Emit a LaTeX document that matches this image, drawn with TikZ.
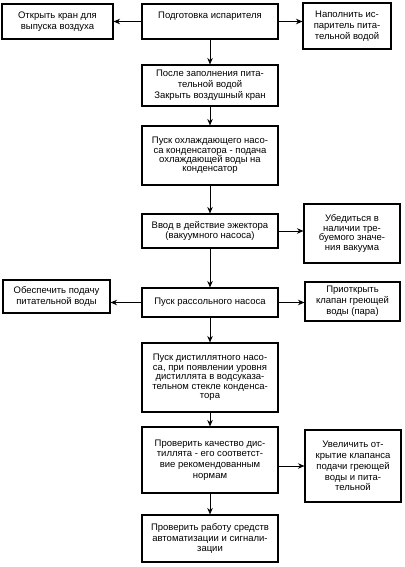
\documentclass[tikz,border=0pt]{standalone}
\usepackage{fontspec}
\setmainfont{Liberation Sans}
\usetikzlibrary{arrows.meta}
\begin{document}
\begin{tikzpicture}[x=1pt,y=-1pt,
  box/.style={draw, line width=1.1pt, inner sep=0pt, align=center,
    font=\fontsize{9.5}{10.8}\selectfont},
  tight/.style={font=\fontsize{9.5}{9.4}\selectfont},
  mainbox/.style={box, minimum width=136pt},
  arr/.style={line width=0.9pt, -{Stealth[length=6.5pt,width=5.5pt]}}]
\useasboundingbox (0,0) rectangle (404,567);
% main column
\node[mainbox, minimum height=35pt, text height=7pt, text depth=13pt] (m1) at (210,21.5) {Подготовка испарителя};
\node[mainbox, minimum height=41pt] (m2) at (210,85.5) {После заполнения пита-\\тельной водой\\Закрыть воздушный кран};
\node[mainbox, tight, minimum height=59pt] (m3) at (210,155.5) {Пуск охлаждающего насо-\\са конденсатора - подача\\охлаждающей воды на\\конденсатор};
\node[mainbox, minimum height=34pt] (m4) at (210,231) {Ввод в действие эжектора\\(вакуумного насоса)};
\node[mainbox, minimum height=29pt] (m5) at (210,302.5) {Пуск рассольного насоса};
\node[mainbox, tight, minimum height=69pt] (m6) at (210,377.5) {Пуск дистиллятного насо-\\са, при появлении уровня\\дистиллята в водсуказа-\\тельном стекле конденса-\\тора};
\node[mainbox, minimum height=66pt] (m7) at (210,460) {Проверить качество дис-\\тиллята - его соответст-\\вие рекомендованным\\нормам};
\node[mainbox, minimum height=47pt] (m8) at (210,538.5) {Проверить работу средств\\автоматизации и сигнали-\\зации};
% side boxes
\node[box, minimum width=111pt, minimum height=35pt] (l1) at (57.5,21.5) {Открыть кран для\\выпуска воздуха};
\node[box, minimum width=88pt, minimum height=46pt] (r1) at (347,26) {Наполнить ис-\\паритель пита-\\тельной водой};
\node[box, tight, minimum width=96pt, minimum height=59pt] (r4) at (352,233.5) {Убедиться в\\наличии тре-\\буемого значе-\\ния вакуума};
\node[box, minimum width=107pt, minimum height=33pt] (l5) at (56.5,296.5) {Обеспечить подачу\\питательной воды};
\node[box, minimum width=95pt, minimum height=39pt] (r5) at (352.5,301.5) {Приоткрыть\\клапан греющей\\воды (пара)};
\node[box, minimum width=96pt, minimum height=72pt] (r7) at (353,466) {Увеличить от-\\крытие клапанса\\подачи греющей\\воды и пита-\\тельной};
% vertical flow
\draw[arr] (m1) -- (m2);
\draw[arr] (m2) -- (m3);
\draw[arr] (m3) -- (m4);
\draw[arr] (m4) -- (m5);
\draw[arr] (m5) -- (m6);
\draw[arr] (m6) -- (m7);
\draw[arr] (m7) -- (m8);
% side arrows
\draw[arr] (m1.west) -- (m1.west -| l1.east);
\draw[arr] (m1.east) -- (m1.east -| r1.west);
\draw[arr] (m4.east) -- (m4.east -| r4.west);
\draw[arr] (m5.west) -- (m5.west -| l5.east);
\draw[arr] (m5.east) -- (m5.east -| r5.west);
\draw[arr] (r7.west -| m7.east) -- (r7.west);
\end{tikzpicture}
\end{document}
